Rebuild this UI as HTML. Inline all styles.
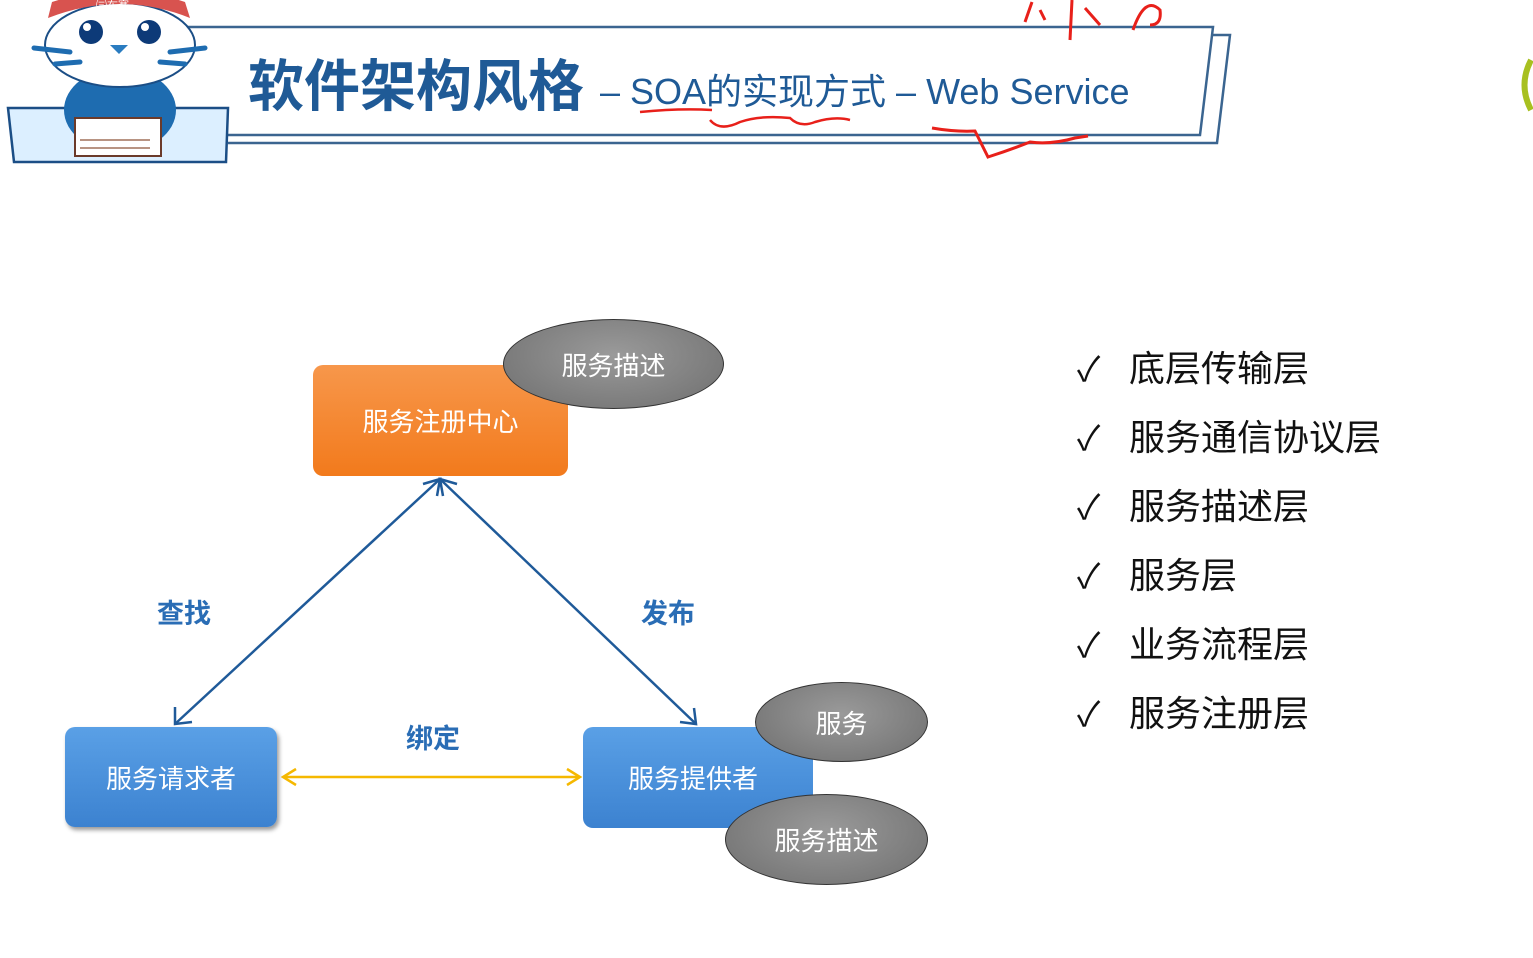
<!DOCTYPE html>
<html><head><meta charset="utf-8">
<style>
body{margin:0;width:1533px;height:958px;background:#fff;position:relative;overflow:hidden;font-family:"Liberation Sans","Noto Sans CJK SC",sans-serif}
.t{position:absolute;white-space:nowrap}
.box{position:absolute;color:#fff;font-size:26px;display:flex;align-items:center;justify-content:center;border-radius:10px}
.ell{position:absolute;border-radius:50%;background:radial-gradient(ellipse at 50% 40%,#9a9a9a,#6e6e6e);border:1.5px solid #333;color:#fff;font-size:26px;display:flex;align-items:center;justify-content:center}
.li{position:absolute;left:1077px;font-size:36px;color:#111}
.li span{display:inline-block;width:52px;font-size:34px}
</style></head><body>
<svg width="1533" height="958" style="position:absolute;left:0;top:0">
<polyline points="170,27 1213,27 1200,135 228,135" fill="none" stroke="#3b6590" stroke-width="2.5"/>
<polyline points="1213,35 1230,35 1217,143 228,143" fill="none" stroke="#3b6590" stroke-width="2.5"/>
<polygon points="8,108 228,108 226,162 14,162" fill="#dcefff" stroke="#1b4e86" stroke-width="2.5"/>
<ellipse cx="120" cy="110" rx="56" ry="42" fill="#1e6cb0"/>
<rect x="75" y="118" width="86" height="38" fill="#fff" stroke="#6b3a2a" stroke-width="2"/>
<path d="M80,140 L150,140 M80,148 L150,148" stroke="#a0705a" stroke-width="1.5"/>
<ellipse cx="120" cy="45" rx="75" ry="42" fill="#fff" stroke="#1b4e86" stroke-width="2"/>
<path d="M48,18 Q120,-10 190,18 L185,2 Q120,-20 52,2Z" fill="#d8534f"/>
<text x="96" y="9" font-size="11" fill="#fff">㈢布赛</text>
<circle cx="91" cy="32" r="12" fill="#0d3a78"/><circle cx="149" cy="32" r="12" fill="#0d3a78"/>
<circle cx="87" cy="27" r="4" fill="#fff"/><circle cx="145" cy="27" r="4" fill="#fff"/>
<path d="M110,45 L128,45 L119,54Z" fill="#2a7cc0"/>
<path d="M34,48 L70,52 M170,52 L205,48 M55,64 L80,62 M160,62 L185,64" stroke="#1e6cb0" stroke-width="5" stroke-linecap="round"/>
<path d="M640,112 Q680,108 712,110 M710,120 Q720,132 740,122 Q760,115 790,118 Q800,128 815,122 Q835,116 850,120" fill="none" stroke="#e8201a" stroke-width="2.5"/>
<path d="M932,128 Q955,132 975,131 L988,157 Q1010,150 1030,142 Q1050,145 1075,138 L1088,136" fill="none" stroke="#e8201a" stroke-width="3"/>
<path d="M1025,22 L1032,2 M1040,10 L1045,20 M1072,0 L1070,40 M1085,8 L1100,25 M1133,30 Q1145,-5 1160,10 Q1162,25 1150,25" fill="none" stroke="#e8201a" stroke-width="3"/>
<path d="M1531,60 Q1518,85 1531,110" fill="none" stroke="#a8c020" stroke-width="6"/>
<g stroke="#1f5a99" stroke-width="2.5" fill="none">
<line x1="440" y1="479" x2="175" y2="724"/>
<line x1="440" y1="479" x2="696" y2="724"/>
<polyline points="423,484 440,479 437,496"/>
<polyline points="443,496 440,479 457,484"/>
<polyline points="175,707 175,724 192,722"/>
<polyline points="680,722 696,724 694,708"/>
</g>
<g stroke="#f5b800" stroke-width="2.5" fill="none">
<line x1="283" y1="777" x2="580" y2="777"/>
<polyline points="296,769 283,777 296,785"/>
<polyline points="567,769 580,777 567,785"/>
</g>
</svg>
<div class="t" style="left:248px;top:42px;font-size:56px;color:#1f5a96;font-weight:bold">软件架构风格</div>
<div class="t" style="left:600px;top:63px;font-size:36px;color:#1f5a96">– SOA的实现方式 – Web Service</div>

<div class="box" style="left:313px;top:365px;width:255px;height:111px;background:linear-gradient(#f7974b,#f27a1c)">服务注册中心</div>
<div class="ell" style="left:503px;top:319px;width:219px;height:88px">服务描述</div>
<div class="box" style="left:65px;top:727px;width:212px;height:100px;background:linear-gradient(#5aa0e6,#3c82d0);box-shadow:2px 3px 4px #999">服务请求者</div>
<div class="box" style="left:583px;top:727px;width:230px;height:101px;background:linear-gradient(#5aa0e6,#3c82d0);justify-content:flex-start;padding-left:45px;box-sizing:border-box">服务提供者</div>
<div class="ell" style="left:755px;top:682px;width:171px;height:78px">服务</div>
<div class="ell" style="left:725px;top:794px;width:201px;height:89px">服务描述</div>

<div class="t" style="left:157px;top:592px;font-size:27px;color:#2a6db5;font-weight:bold">查找</div>
<div class="t" style="left:641px;top:592px;font-size:27px;color:#2a6db5;font-weight:bold">发布</div>
<div class="t" style="left:406px;top:717px;font-size:27px;color:#2a6db5;font-weight:bold">绑定</div>

<div class="li" style="top:340px"><span>✓</span>底层传输层</div>
<div class="li" style="top:409px"><span>✓</span>服务通信协议层</div>
<div class="li" style="top:478px"><span>✓</span>服务描述层</div>
<div class="li" style="top:547px"><span>✓</span>服务层</div>
<div class="li" style="top:616px"><span>✓</span>业务流程层</div>
<div class="li" style="top:685px"><span>✓</span>服务注册层</div>
</body></html>
